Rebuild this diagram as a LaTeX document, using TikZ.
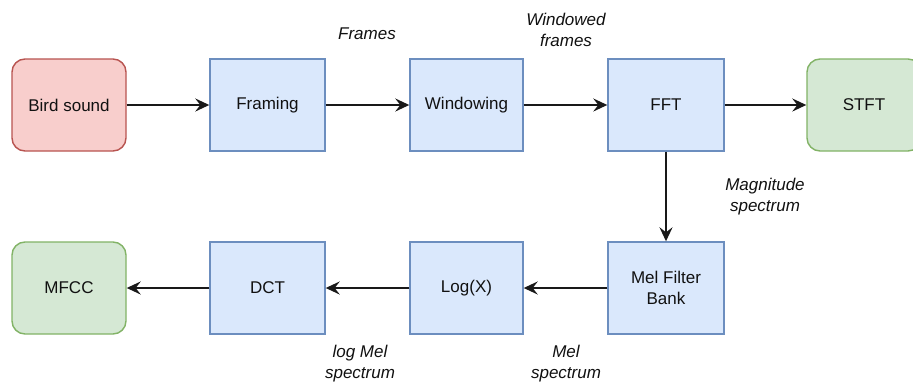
\documentclass[tikz,border=0pt]{standalone}
\usepackage{fontspec}
\setmainfont{Liberation Sans}
\usetikzlibrary{arrows.meta}
\definecolor{redfill}{HTML}{F8CECC}
\definecolor{redline}{HTML}{B85450}
\definecolor{bluefill}{HTML}{DAE8FC}
\definecolor{blueline}{HTML}{6C8EBF}
\definecolor{greenfill}{HTML}{D5E8D4}
\definecolor{greenline}{HTML}{82B366}
\definecolor{txt}{HTML}{111111}
\tikzset{
  base/.style={minimum width=114pt, minimum height=92pt, inner sep=0pt, line width=1.4pt,
    font=\fontsize{17}{21}\selectfont, text=txt, align=center},
  procbox/.style={base, draw=blueline, fill=bluefill},
  startbox/.style={base, draw=redline, fill=redfill, rounded corners=13pt},
  endbox/.style={base, draw=greenline, fill=greenfill, rounded corners=13pt},
  lbl/.style={font=\fontsize{17}{21}\selectfont\itshape, text=txt, align=center, fill=white, inner sep=1pt},
  flow/.style={line width=1.9pt, black!90, -{Stealth[length=14pt,width=13pt,inset=5pt]}}
}
\begin{document}
\begin{tikzpicture}[x=1pt,y=-1pt]
\useasboundingbox (0,0) rectangle (913,386);
\fill[white] (0,0) rectangle (913,386);
\begin{scope}
\clip (0,0) rectangle (913,386);
\node[startbox] (bird) at (69,105) {Bird sound};
\node[procbox, minimum width=115pt] (framing) at (267.5,105) {Framing};
\node[procbox, minimum width=113pt] (windowing) at (466.5,105) {Windowing};
\node[procbox, minimum width=116pt] (fft) at (666,105) {FFT};
\node[endbox] (stft) at (864,105) {STFT};
\node[endbox] (mfcc) at (69,288) {MFCC};
\node[procbox, minimum width=115pt] (dct) at (267.5,288) {DCT};
\node[procbox, minimum width=113pt] (logx) at (466.5,288) {Log(X)};
\node[procbox, minimum width=116pt] (mel) at (666,288) {Mel Filter\\Bank};
\end{scope}

\draw[flow] (bird) -- (framing);
\draw[flow] (framing) -- (windowing);
\draw[flow] (windowing) -- (fft);
\draw[flow] (fft) -- (stft);
\draw[flow] (fft) -- (mel);
\draw[flow] (mel) -- (logx);
\draw[flow] (logx) -- (dct);
\draw[flow] (dct) -- (mfcc);

\node[lbl] (lframes) at (367,34) {Frames};
\node[lbl] (lwin) at (566,29.5) {Windowed\\frames};
\node[lbl] (lmag) at (765,197) {Magnitude\\spectrum};
\node[lbl] (llogmel) at (360,364) {log Mel\\spectrum};
\node[lbl] (lmel) at (566,364) {Mel\\spectrum};
\end{tikzpicture}
\end{document}
